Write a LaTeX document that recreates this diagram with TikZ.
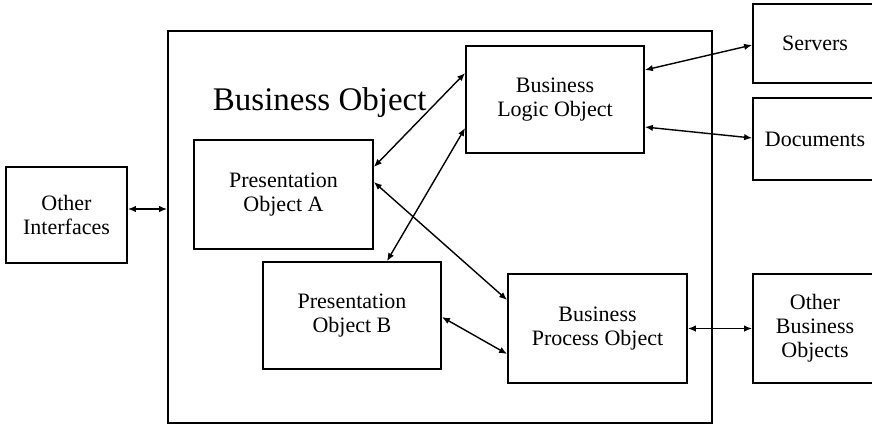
\documentclass[tikz,border=0pt]{standalone}
\usepackage{fontspec}
\setmainfont{Liberation Serif}
\usetikzlibrary{arrows.meta}

\begin{document}
\begin{tikzpicture}[x=1pt,y=-1pt,line width=1.4pt,
	every node/.style={draw,rectangle,align=center,inner sep=0pt,line width=1.8pt,font=\fontsize{22}{24}\selectfont},
	link/.style={{Latex[length=8pt,width=6.5pt]}-{Latex[length=8pt,width=6.5pt]}}]
	\useasboundingbox (0,0) rectangle (872,426);
	
	\node[minimum width=544pt,minimum height=392pt] (bo) at (440,227) {};
	\node[draw=none,anchor=base west,font=\fontsize{33}{36}\selectfont] (title) at (212,110) {Business Object};
	
	\node[minimum width=178pt,minimum height=107pt] (blo) at (555,99.5) {Business\\Logic Object};
	\node[minimum width=179pt,minimum height=109pt] (pa) at (283.5,194.5) {Presentation\\Object A};
	\node[minimum width=178pt,minimum height=107pt] (pb) at (352,315.5) {Presentation\\Object B};
	\node[minimum width=179pt,minimum height=109pt] (bpo) at (597.5,328.5) {Business\\Process Object};
	
	\node[minimum width=121pt,minimum height=96pt] (oi) at (66.5,215) {Other\\Interfaces};
	\node[minimum width=124pt,minimum height=79pt] (srv) at (815,43.5) {Servers};
	\node[minimum width=124pt,minimum height=82pt] (doc) at (815,139) {Documents};
	\node[minimum width=124pt,minimum height=109pt] (obo) at (815,328.5) {Other\\Business\\Objects};
	
	\draw[link] ([yshift=6pt]oi.east) -- ([yshift=6pt]oi.east -| bo.west);
	\draw[link] ([yshift=26.5pt]blo.west) -- ([yshift=27.5pt]pa.east);
	\draw[link] ([yshift=-28.5pt]blo.west) -- ([xshift=35pt]pb.north);
	\draw[link] ([yshift=12.5pt]pa.east) -- ([yshift=28.5pt]bpo.west);
	\draw[link] ([yshift=-1.5pt]pb.east) -- ([yshift=-25.5pt]bpo.west);
	\draw[link] ([yshift=29.5pt]blo.east) -- ([yshift=-1.5pt]srv.west);
	\draw[link] ([yshift=-27.5pt]blo.east) -- ([yshift=1pt]doc.west);
	\draw[link] (bpo.east) -- (obo.west);
	
\end{tikzpicture}
\end{document}
